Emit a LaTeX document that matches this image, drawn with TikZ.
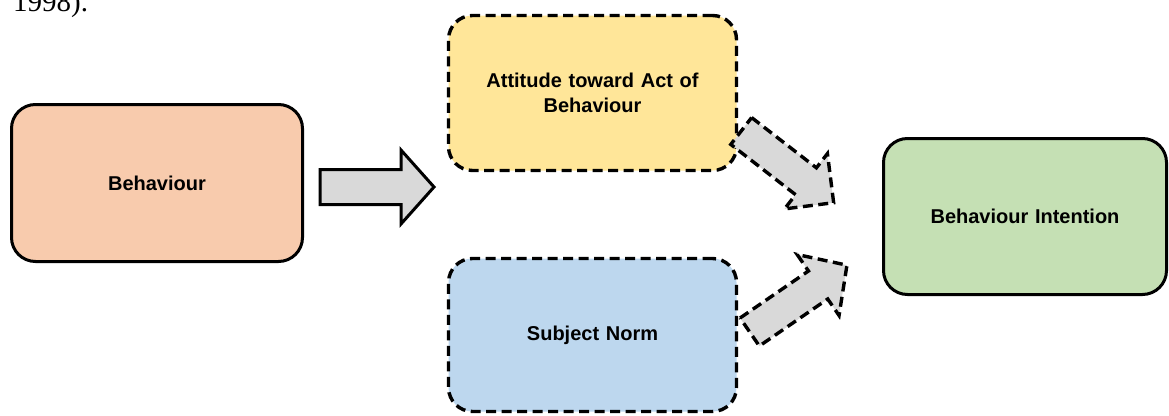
\documentclass[tikz,border=0pt]{standalone}
\usepackage{fontspec}
\setmainfont{Liberation Sans}
\newfontfamily\bodyserif{Liberation Serif}
\usetikzlibrary{calc}

\definecolor{boxorange}{HTML}{F8CBAD}
\definecolor{boxyellow}{HTML}{FFE699}
\definecolor{boxblue}{HTML}{BDD7EE}
\definecolor{boxgreen}{HTML}{C5E0B4}
\definecolor{arrowgray}{HTML}{D9D9D9}

% Block arrow: #1 style, #2 tail point, #3 angle, #4 length,
% #5 shaft half width, #6 head half width, #7 head length
\newcommand{\blockarrow}[7]{%
  \begin{scope}[shift={#2}, rotate=#3]
    \draw[#1] (0,-#5) -- ({#4-#7},-#5) -- ({#4-#7},-#6) -- (#4,0)
      -- ({#4-#7},#6) -- ({#4-#7},#5) -- (0,#5) -- cycle;
  \end{scope}}

\tikzset{
  card/.style={draw=black, line width=3pt, rounded corners=24pt,
    font=\bfseries\fontsize{20}{25}\selectfont, align=center,
    inner sep=0pt, text width=260pt},
  solidcard/.style={card},
  dashcard/.style={card, line width=3.4pt, dash pattern=on 10pt off 5.5pt},
  solidarrow/.style={draw=black, fill=arrowgray, line width=3pt, line join=miter},
  dasharrow/.style={draw=black, fill=arrowgray, line width=3.4pt,
    dash pattern=on 10pt off 5.5pt, line join=miter},
}

\begin{document}
\begin{tikzpicture}[x=1pt, y=-1pt]
  \useasboundingbox (0,0) rectangle (1169,415);

  % tail of the preceding paragraph, cut by the page edge
  \begin{scope}
    \clip (0,0) rectangle (1169,415);
    \node[anchor=base west, inner sep=0pt, font=\bodyserif\fontsize{29}{34}\selectfont]
      (citeend) at (13,11) {1998).};
  \end{scope}

  % boxes
  \node[solidcard, fill=boxorange, minimum width=291pt, minimum height=157pt]
    (beh) at (157,183) {Behaviour};
  \node[dashcard, fill=boxyellow, minimum width=288pt, minimum height=155pt]
    (att) at (592.5,93) {Attitude toward Act of\\Behaviour};
  \node[dashcard, fill=boxblue, minimum width=288pt, minimum height=153pt]
    (norm) at (592.5,335) {Subject Norm};
  \node[solidcard, fill=boxgreen, minimum width=283pt, minimum height=156pt]
    (int) at (1025,216.5) {Behaviour Intention};

  % arrow tails
  \coordinate (behout) at ($(beh.east)+(16,4)$);
  \coordinate (attout) at ($(att.east)+(3,38)$);
  \coordinate (normout) at ($(norm.east)+(11.5,-3)$);

  % block arrows
  \blockarrow{solidarrow}{(behout)}{0}{114}{17.5}{37}{33}
  \blockarrow{dasharrow}{(attout)}{-37.8}{117}{17}{35}{35}
  \blockarrow{dasharrow}{(normout)}{34.5}{118}{17}{37}{35}
\end{tikzpicture}
\end{document}
